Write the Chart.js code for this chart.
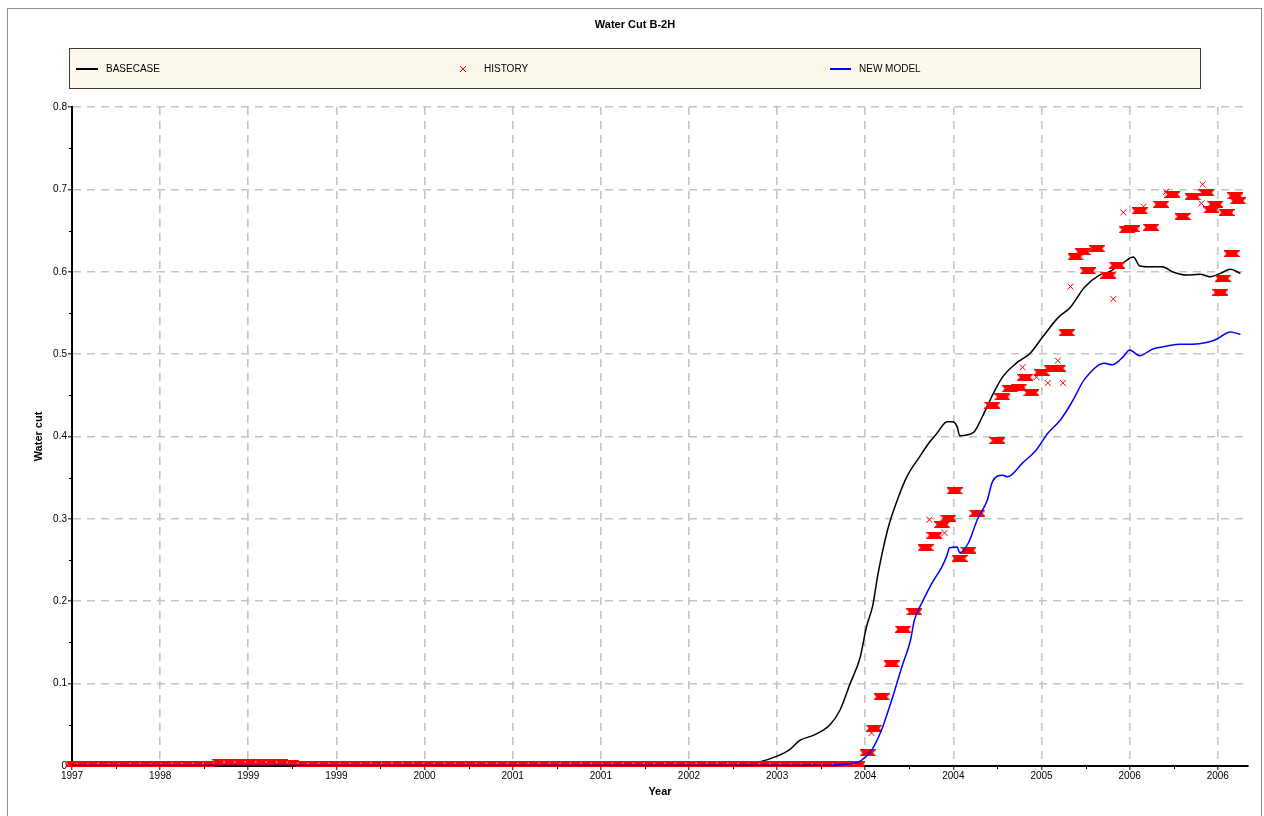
<!DOCTYPE html>
<html>
<head>
<meta charset="utf-8">
<title>Water Cut B-2H</title>
<script src="https://cdn.jsdelivr.net/npm/chart.js@4.4.0/dist/chart.umd.min.js"></script>
<style>
  html, body { margin: 0; padding: 0; background: #fff; }
  #wrap { width: 1264px; height: 816px; }
</style>
</head>
<body>
<div id="wrap"><canvas id="water_cut" width="1264" height="816"></canvas></div>
<script>
const chartTitle = "Water Cut B-2H";
const xTitle = "Year";
const yTitle = "Water cut";
const legendNames = ["BASECASE", "HISTORY", "NEW MODEL"];

// x axis: grid every 0.7 year starting Apr 1997, labels as printed by the simulator
const xStart = 1997.25;
const xStep = 0.7;
const xEnd = 2006.59;
const xTickLabels = ["1997", "1998", "1999", "1999", "2000", "2001", "2001",
  "2002", "2003", "2004", "2004", "2005", "2006", "2006"];
const yTickLabels = ["0", "0.1", "0.2", "0.3", "0.4", "0.5", "0.6", "0.7", "0.8"];

// BASECASE simulation
const baseYear = [1997.25, 2002.55, 2002.71, 2002.85, 2002.95, 2003.03, 2003.15, 2003.27,
  2003.35, 2003.43, 2003.51, 2003.56, 2003.61, 2003.65, 2003.73, 2003.81, 2003.88, 2003.98,
  2004.06, 2004.12, 2004.20, 2004.24, 2004.28, 2004.30, 2004.41, 2004.48, 2004.56, 2004.64,
  2004.75, 2004.86, 2004.96, 2005.08, 2005.18, 2005.29, 2005.41, 2005.49, 2005.60, 2005.68,
  2005.73, 2005.81, 2005.91, 2005.99, 2006.10, 2006.21, 2006.29, 2006.37, 2006.45, 2006.53];
const baseCut = [0.001, 0.001, 0.005, 0.012, 0.020, 0.031, 0.038, 0.050,
  0.068, 0.100, 0.132, 0.169, 0.195, 0.232, 0.288, 0.325, 0.351, 0.375,
  0.393, 0.404, 0.418, 0.418, 0.412, 0.401, 0.405, 0.424, 0.450, 0.472,
  0.489, 0.501, 0.521, 0.544, 0.557, 0.581, 0.596, 0.600, 0.611, 0.618,
  0.607, 0.606, 0.606, 0.600, 0.596, 0.597, 0.594, 0.598, 0.603, 0.598];

// NEW MODEL simulation
const newYear = [1997.25, 2003.29, 2003.39, 2003.48, 2003.52, 2003.60, 2003.68, 2003.76,
  2003.84, 2003.91, 2003.94, 2004.00, 2004.08, 2004.16, 2004.20, 2004.22, 2004.28, 2004.30,
  2004.37, 2004.44, 2004.52, 2004.56, 2004.64, 2004.68, 2004.80, 2004.91, 2005.00, 2005.10,
  2005.20, 2005.29, 2005.45, 2005.51, 2005.60, 2005.65, 2005.73, 2005.83, 2005.95, 2006.05,
  2006.15, 2006.26, 2006.34, 2006.45, 2006.53];
const newCut = [0.0005, 0.001, 0.002, 0.004, 0.007, 0.019, 0.044, 0.080,
  0.120, 0.153, 0.177, 0.198, 0.222, 0.242, 0.256, 0.265, 0.266, 0.259,
  0.271, 0.299, 0.323, 0.345, 0.353, 0.351, 0.368, 0.384, 0.404, 0.420,
  0.444, 0.469, 0.489, 0.487, 0.497, 0.505, 0.498, 0.506, 0.510, 0.512,
  0.512, 0.514, 0.518, 0.527, 0.524];

// HISTORY: monthly values before water breakthrough (one per month from xStart)
const histEarly = [0.003, 0.002, 0.003, 0.003, 0.002, 0.003, 0.003, 0.003, 0.002, 0.003,
  0.003, 0.003, 0.003, 0.003, 0.005, 0.005, 0.005, 0.005, 0.005, 0.005,
  0.005, 0.004, 0.003, 0.003, 0.003, 0.003, 0.003, 0.003, 0.003, 0.003,
  0.003, 0.003, 0.003, 0.003, 0.003, 0.003, 0.003, 0.003, 0.003, 0.003,
  0.003, 0.003, 0.003, 0.003, 0.003, 0.003, 0.003, 0.003, 0.003, 0.003,
  0.003, 0.003, 0.003, 0.003, 0.003, 0.003, 0.003, 0.003, 0.003, 0.003,
  0.003, 0.003, 0.003, 0.003, 0.003, 0.003, 0.003, 0.003, 0.002, 0.002,
  0.002, 0.002, 0.002, 0.002, 0.002, 0.002];
// HISTORY: monthly groups after breakthrough
const histYear = [2003.57, 2003.62, 2003.68, 2003.76, 2003.85, 2003.94, 2004.03, 2004.10,
  2004.16, 2004.21, 2004.26, 2004.30, 2004.37, 2004.44, 2004.56, 2004.60, 2004.64, 2004.70,
  2004.77, 2004.82, 2004.87, 2004.95, 2005.03, 2005.08, 2005.15, 2005.22, 2005.28, 2005.32,
  2005.39, 2005.48, 2005.55, 2005.63, 2005.67, 2005.73, 2005.82, 2005.90, 2005.99, 2006.07,
  2006.15, 2006.26, 2006.30, 2006.33, 2006.37, 2006.39, 2006.42, 2006.46, 2006.49, 2006.51];
const histCut = [0.016, 0.046, 0.084, 0.124, 0.166, 0.187, 0.265, 0.280,
  0.293, 0.301, 0.334, 0.252, 0.262, 0.307, 0.438, 0.395, 0.448, 0.458,
  0.460, 0.472, 0.453, 0.478, 0.483, 0.483, 0.526, 0.618, 0.624, 0.601,
  0.628, 0.596, 0.608, 0.651, 0.652, 0.674, 0.654, 0.682, 0.694, 0.667,
  0.691, 0.696, 0.675, 0.682, 0.575, 0.592, 0.672, 0.622, 0.692, 0.686];
// HISTORY: isolated samples
const singleYear = [2003.60, 2004.06, 2004.18, 2004.80, 2004.91, 2005.00, 2005.08, 2005.12,
  2005.18, 2005.52, 2005.60, 2005.76, 2005.94, 2006.22, 2006.23];
const singleCut = [0.040, 0.299, 0.283, 0.484, 0.472, 0.465, 0.492, 0.465,
  0.582, 0.567, 0.672, 0.679, 0.697, 0.683, 0.706];

const FONT = "'Liberation Sans', Arial, sans-serif";

function toPoints(xs, ys) {
  return xs.map((x, i) => ({ x: x, y: ys[i] }));
}

// marker for a month of daily samples: a run of red crosses
function makeCluster(w, h, step) {
  const cv = document.createElement("canvas");
  cv.width = w;
  cv.height = h;
  const c = cv.getContext("2d");
  c.strokeStyle = "#ff0000";
  c.lineWidth = 1.2;
  const r = h / 2;
  for (let cx = r; cx <= w - r + 0.01; cx += step) {
    c.beginPath();
    c.moveTo(cx - r, 0);
    c.lineTo(cx + r, h);
    c.moveTo(cx - r, h);
    c.lineTo(cx + r, 0);
    c.stroke();
  }
  return cv;
}

const clusterMark = makeCluster(16, 7, 1);
const bandMark = makeCluster(13, 6, 0.5);

const framePlugin = {
  id: "frame",
  beforeDraw(chart) {
    const c = chart.ctx;
    c.save();
    c.fillStyle = "#ffffff";
    c.fillRect(0, 0, chart.width, chart.height);
    c.strokeStyle = "#8c8c8c";
    c.lineWidth = 1;
    c.strokeRect(7.5, 8.5, 1254, 840);

    c.fillStyle = "#000";
    c.font = "bold 11px " + FONT;
    c.textAlign = "center";
    c.textBaseline = "middle";
    c.fillText(chartTitle, 635, 25);

    // legend box
    c.fillStyle = "#fdf8ec";
    c.fillRect(69.5, 48.5, 1131, 40);
    c.strokeStyle = "#3c3c3c";
    c.strokeRect(69.5, 48.5, 1131, 40);

    const ly = 69;
    c.font = "10px " + FONT;
    c.textAlign = "left";
    c.fillStyle = "#000";
    c.lineWidth = 2;
    c.strokeStyle = "#000";
    c.beginPath(); c.moveTo(76, ly); c.lineTo(98, ly); c.stroke();
    c.fillText(legendNames[0], 106, ly);

    c.lineWidth = 1;
    c.strokeStyle = "#ff0000";
    c.beginPath();
    c.moveTo(460, ly - 3); c.lineTo(466, ly + 3);
    c.moveTo(460, ly + 3); c.lineTo(466, ly - 3);
    c.stroke();
    c.fillText(legendNames[1], 484, ly);

    c.lineWidth = 2;
    c.strokeStyle = "#0000ff";
    c.beginPath(); c.moveTo(830, ly); c.lineTo(851, ly); c.stroke();
    c.fillText(legendNames[2], 859, ly);
    c.restore();
  },
  afterDraw(chart) {
    // minor tick marks
    const c = chart.ctx;
    const xs = chart.scales.x, ys = chart.scales.y;
    const area = chart.chartArea;
    c.save();
    c.strokeStyle = "#000";
    c.lineWidth = 1;
    c.beginPath();
    for (let i = 0; i < yTickLabels.length - 1; i++) {
      const py = Math.round(ys.getPixelForValue((i + 0.5) / 10)) + 0.5;
      c.moveTo(area.left - 3, py);
      c.lineTo(area.left + 1, py);
    }
    for (let i = 0; i < xTickLabels.length; i++) {
      const px = Math.round(xs.getPixelForValue(xStart + (i + 0.5) * xStep)) + 0.5;
      if (px > area.right) break;
      c.moveTo(px, area.bottom);
      c.lineTo(px, area.bottom + 3);
    }
    c.stroke();
    c.restore();
  }
};

const gridColor = "#c4c4c4";

const config = {
  type: "scatter",
  data: {
    datasets: [
      {
        label: legendNames[2],
        data: toPoints(newYear, newCut),
        showLine: true,
        cubicInterpolationMode: "monotone",
        borderColor: "#0000ff",
        borderWidth: 1.5,
        pointRadius: 0,
        order: 0
      },
      {
        label: legendNames[1],
        data: toPoints(singleYear, singleCut),
        pointStyle: "crossRot",
        pointRadius: 4.2,
        borderColor: "#ff0000",
        borderWidth: 1,
        order: 1,
        clip: false
      },
      {
        label: legendNames[1],
        data: toPoints(histYear, histCut),
        pointStyle: clusterMark,
        pointRadius: 3,
        order: 1,
        clip: false
      },
      {
        label: legendNames[1],
        data: histEarly.map((v, i) => ({ x: xStart + i / 12, y: v })),
        pointStyle: bandMark,
        pointRadius: 3,
        order: 1,
        clip: false
      },
      {
        label: legendNames[0],
        data: toPoints(baseYear, baseCut),
        showLine: true,
        cubicInterpolationMode: "monotone",
        borderColor: "#000000",
        borderWidth: 1.5,
        pointRadius: 0,
        order: 2
      }
    ]
  },
  options: {
    responsive: false,
    animation: false,
    devicePixelRatio: 1,
    layout: { padding: { left: 0, top: 107, right: 16, bottom: 0 } },
    plugins: {
      legend: { display: false },
      title: { display: false },
      tooltip: { enabled: false }
    },
    scales: {
      x: {
        type: "linear",
        min: xStart,
        max: xEnd,
        afterBuildTicks: (scale) => {
          scale.ticks = xTickLabels.map((_, i) => ({ value: xStart + i * xStep }));
        },
        afterFit: (scale) => { scale.height = 50; },
        ticks: {
          autoSkip: false,
          maxRotation: 0,
          padding: 0,
          color: "#000",
          font: { family: FONT, size: 10 },
          callback: (v, i) => xTickLabels[i]
        },
        grid: {
          color: gridColor,
          lineWidth: 1.6,
          tickLength: 4,
          tickColor: "#000",
          tickWidth: 1,
          tickBorderDash: []
        },
        border: { display: true, color: "#000", width: 2, dash: [8, 6] },
        title: {
          display: true,
          text: xTitle,
          color: "#000",
          font: { family: FONT, size: 11, weight: "bold" },
          padding: { top: 0, bottom: 17 }
        }
      },
      y: {
        min: 0,
        max: 0.8,
        afterFit: (scale) => { scale.width = 72; },
        ticks: {
          stepSize: 0.1,
          padding: 1,
          color: "#000",
          font: { family: FONT, size: 10 },
          callback: (v, i) => yTickLabels[i]
        },
        grid: {
          color: gridColor,
          lineWidth: 1.6,
          tickLength: 4,
          tickColor: "#000",
          tickWidth: 1,
          tickBorderDash: []
        },
        border: { display: true, color: "#000", width: 2, dash: [8, 6] },
        title: {
          display: true,
          text: yTitle,
          color: "#000",
          font: { family: FONT, size: 11, weight: "bold" },
          padding: { top: 32, bottom: 0 }
        }
      }
    }
  },
  plugins: [framePlugin]
};

window.onload = function () {
  const ctx = document.getElementById("water_cut").getContext("2d");
  new Chart(ctx, config);
};
</script>
</body>
</html>
